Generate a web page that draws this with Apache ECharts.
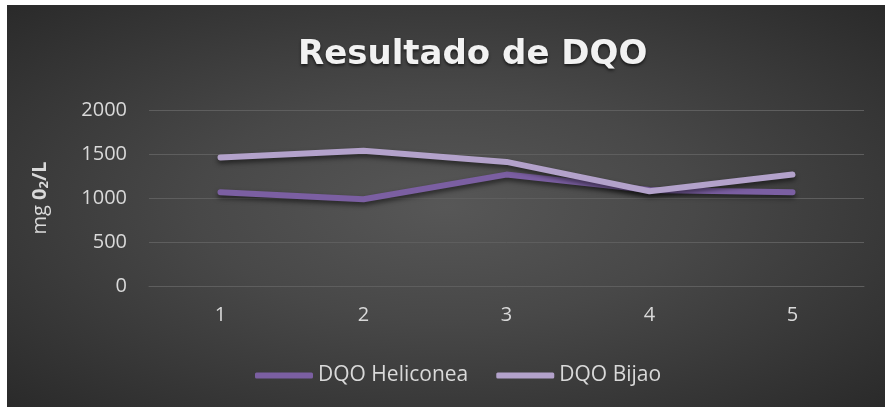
<!DOCTYPE html>
<html>
<head>
<meta charset="utf-8">
<script src="https://cdn.jsdelivr.net/npm/echarts@6/dist/echarts.min.js"></script>
<style>
  html, body { margin: 0; padding: 0; background: #ffffff; }
  #bg {
    position: absolute; left: 7px; top: 5px; width: 878px; height: 402px;
    background: radial-gradient(ellipse at 50% 50%, #575757 0%, #484848 40%, #2a2a2a 100%);
  }
  #main { position: absolute; left: 0; top: 0; width: 885px; height: 407px; }
</style>
</head>
<body>
<div id="bg"></div>
<div id="main"></div>
<script>
var categories = ["1", "2", "3", "4", "5"];
var heliconea = [1066, 985, 1266, 1090, 1066];
var bijao = [1461, 1537, 1410, 1077, 1266];

var chart = echarts.init(document.getElementById("main"));

var font = "'Open Sans', sans-serif";

chart.setOption({
  backgroundColor: "transparent",
  animation: false,
  title: {
    text: "Resultado de DQO",
    left: 293,
    top: 33,
    textStyle: {
      color: "#f2f2f2",
      fontFamily: "'DejaVu Sans', sans-serif",
      fontWeight: "bold",
      fontSize: 34,
      textShadowColor: "rgba(0,0,0,0.6)",
      textShadowBlur: 3,
      textShadowOffsetY: 2
    }
  },
  legend: {
    bottom: 16,
    left: 250,
    icon: "roundRect",
    itemWidth: 58,
    itemHeight: 6,
    itemGap: 28,
    itemTextGap: 0,
    textStyle: { color: "#d9d9d9", fontFamily: font, fontSize: 21 },
    data: ["DQO Heliconea", "DQO Bijao"]
  },
  grid: { left: 149, right: 21, top: 110, bottom: 121 },
  xAxis: {
    type: "category",
    data: categories,
    boundaryGap: true,
    axisLine: { lineStyle: { color: "#5e5e5e", width: 1 } },
    axisTick: { show: false },
    axisLabel: { color: "#d9d9d9", fontFamily: font, fontSize: 20, margin: 19 }
  },
  yAxis: {
    type: "value",
    min: 0,
    max: 2000,
    interval: 500,
    name: "{n|mg }{b|0}{s|2}{b|/L}",
    nameLocation: "middle",
    nameRotate: 90,
    nameGap: 98,
    nameTextStyle: {
      color: "#d9d9d9",
      fontFamily: font,
      rich: {
        n: { color: "#d9d9d9", fontFamily: font, fontSize: 20 },
        b: { color: "#d9d9d9", fontFamily: font, fontSize: 20, fontWeight: "bold" },
        s: { color: "#d9d9d9", fontFamily: font, fontSize: 13, fontWeight: "bold", verticalAlign: "bottom", padding: [8, 0, 0, 0] }
      }
    },
    axisLine: { show: false },
    axisTick: { show: false },
    axisLabel: {
      color: "#d9d9d9", fontFamily: font, fontSize: 20, margin: 22,
      formatter: function (v) { return String(v); }
    },
    splitLine: { lineStyle: { color: "#5e5e5e", width: 1 } }
  },
  series: [
    {
      name: "DQO Heliconea",
      type: "line",
      data: heliconea,
      symbol: "none",
      color: "#7b5fa2",
      lineStyle: {
        width: 6, color: "#7b5fa2", cap: "round", join: "round",
        shadowColor: "rgba(0,0,0,0.55)", shadowBlur: 5, shadowOffsetY: 3
      }
    },
    {
      name: "DQO Bijao",
      type: "line",
      data: bijao,
      symbol: "none",
      color: "#b3a2cb",
      lineStyle: {
        width: 6, color: "#b3a2cb", cap: "round", join: "round",
        shadowColor: "rgba(0,0,0,0.55)", shadowBlur: 5, shadowOffsetY: 3
      }
    }
  ]
});
</script>
</body>
</html>
